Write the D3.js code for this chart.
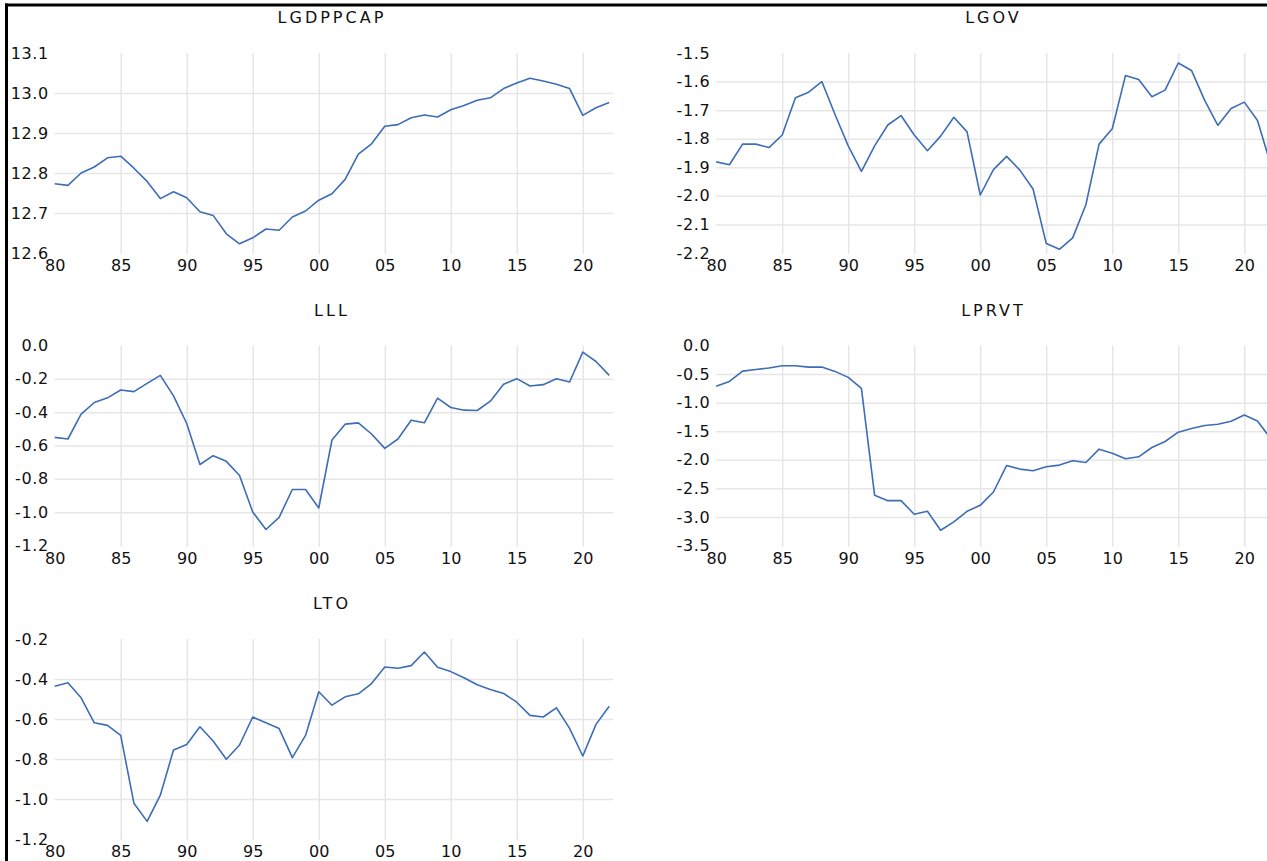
<!DOCTYPE html>
<html>
<head>
<meta charset="utf-8">
<script src="https://cdn.jsdelivr.net/npm/d3@7"></script>
<style>
  body { margin: 0; background: #fff; }
  svg { display: block; }
  text { font-family: "DejaVu Sans", Verdana, sans-serif; fill: #111; }
</style>
</head>
<body>
<div id="chart"></div>
<script>
// annual data 1980-2022
const years = d3.range(1980, 2023);

const lgdppcap = [12.773, 12.769, 12.800, 12.815, 12.838, 12.842, 12.812, 12.779, 12.736, 12.753,
  12.738, 12.703, 12.694, 12.648, 12.623, 12.638, 12.660, 12.657, 12.690, 12.705,
  12.732, 12.748, 12.784, 12.847, 12.873, 12.917, 12.921, 12.938, 12.945, 12.940,
  12.958, 12.969, 12.982, 12.988, 13.011, 13.025, 13.037, 13.030, 13.022, 13.011,
  12.944, 12.963, 12.976];

const lgov = [-1.881, -1.891, -1.819, -1.819, -1.831, -1.787, -1.657, -1.637, -1.600, -1.715,
  -1.825, -1.914, -1.825, -1.752, -1.719, -1.787, -1.842, -1.791, -1.725, -1.776,
  -1.997, -1.908, -1.862, -1.910, -1.976, -2.167, -2.187, -2.147, -2.031, -1.819,
  -1.765, -1.579, -1.593, -1.653, -1.630, -1.535, -1.561, -1.666, -1.753, -1.694,
  -1.672, -1.736, -1.890];

const lll = [-0.551, -0.561, -0.412, -0.342, -0.314, -0.267, -0.277, -0.227, -0.179, -0.302,
  -0.468, -0.714, -0.661, -0.695, -0.780, -0.999, -1.104, -1.031, -0.864, -0.864,
  -0.975, -0.567, -0.472, -0.464, -0.531, -0.617, -0.561, -0.448, -0.464, -0.316,
  -0.372, -0.388, -0.390, -0.334, -0.233, -0.199, -0.243, -0.235, -0.199, -0.219,
  -0.040, -0.096, -0.179];

const lprvt = [-0.715, -0.628, -0.448, -0.419, -0.395, -0.355, -0.355, -0.378, -0.378, -0.453,
  -0.558, -0.750, -2.622, -2.715, -2.715, -2.953, -2.901, -3.233, -3.087, -2.901,
  -2.797, -2.564, -2.099, -2.163, -2.192, -2.122, -2.093, -2.017, -2.047, -1.814,
  -1.884, -1.983, -1.948, -1.785, -1.680, -1.517, -1.453, -1.401, -1.378, -1.326,
  -1.215, -1.320, -1.630];

const lto = [-0.436, -0.419, -0.494, -0.619, -0.632, -0.682, -1.021, -1.112, -0.981, -0.755,
  -0.727, -0.639, -0.710, -0.801, -0.730, -0.590, -0.619, -0.648, -0.793, -0.682,
  -0.464, -0.531, -0.489, -0.474, -0.423, -0.340, -0.346, -0.333, -0.265, -0.341,
  -0.363, -0.394, -0.429, -0.452, -0.472, -0.516, -0.582, -0.590, -0.544, -0.647,
  -0.785, -0.627, -0.536];

// tick labels
const xTicks = [1980, 1985, 1990, 1995, 2000, 2005, 2010, 2015, 2020];
const ticksGdp = [12.6, 12.7, 12.8, 12.9, 13.0, 13.1];
const ticksGov = [-2.2, -2.1, -2.0, -1.9, -1.8, -1.7, -1.6, -1.5];
const ticksLll = [-1.2, -1.0, -0.8, -0.6, -0.4, -0.2, 0.0];
const ticksPrvt = [-3.5, -3.0, -2.5, -2.0, -1.5, -1.0, -0.5, 0.0];
const ticksTo = [-1.2, -1.0, -0.8, -0.6, -0.4, -0.2];

const W = 1267, H = 861;
const panelW = 554.5, panelH = 200;

const panels = [
  { title: "LGDPPCAP", values: lgdppcap, ticks: ticksGdp, left: 54.7, top: 53 },
  { title: "LGOV", values: lgov, ticks: ticksGov, left: 716.2, top: 53 },
  { title: "LLL", values: lll, ticks: ticksLll, left: 54.7, top: 345.5 },
  { title: "LPRVT", values: lprvt, ticks: ticksPrvt, left: 716.2, top: 345.5 },
  { title: "LTO", values: lto, ticks: ticksTo, left: 54.7, top: 639 }
];

const svg = d3.select("#chart")
  .append("svg")
  .attr("width", W)
  .attr("height", H);

const fmtY = d => d.toFixed(1);
const fmtX = d => String(d % 100).padStart(2, "0");

panels.forEach(p => {
  const g = svg.append("g")
    .attr("transform", "translate(" + p.left + "," + p.top + ")");

  const x = d3.scaleLinear()
    .domain([1980, 2022])
    .range([0, panelW]);
  const y = d3.scaleLinear()
    .domain([d3.min(p.ticks), d3.max(p.ticks)])
    .range([panelH, 0]);
  const gridRight = x(2022) + 4;

  // horizontal grid + y labels
  const yAx = g.append("g")
    .call(d3.axisLeft(y).tickValues(p.ticks).tickFormat(fmtY).tickSize(0).tickPadding(6));
  yAx.select(".domain").remove();
  yAx.selectAll("text")
    .attr("font-size", 16)
    .attr("font-family", "DejaVu Sans")
    .attr("letter-spacing", 0.6);
  yAx.selectAll(".tick").append("line")
    .attr("x1", 0)
    .attr("x2", gridRight)
    .attr("stroke", d => (d === d3.min(p.ticks) || d === d3.max(p.ticks)) ? "none" : "#e6e6e6")
    .attr("stroke-width", 1.5);

  // vertical grid + x labels
  const xAx = g.append("g")
    .attr("transform", "translate(0," + panelH + ")")
    .call(d3.axisBottom(x).tickValues(xTicks).tickFormat(fmtX).tickSize(0).tickPadding(7));
  xAx.select(".domain").remove();
  xAx.selectAll("text")
    .attr("font-size", 16)
    .attr("font-family", "DejaVu Sans");
  xAx.selectAll(".tick").append("line")
    .attr("y1", 1)
    .attr("y2", -panelH)
    .attr("stroke", d => d === 1980 ? "none" : "#e6e6e6")
    .attr("stroke-width", 1.5);

  // title
  g.append("text")
    .attr("x", panelW / 2)
    .attr("y", -30)
    .attr("text-anchor", "middle")
    .attr("font-size", 16)
    .attr("letter-spacing", 3)
    .text(p.title);

  // series line
  const line = d3.line()
    .x((d, i) => x(years[i]))
    .y(d => y(d));
  g.append("path")
    .datum(p.values)
    .attr("fill", "none")
    .attr("stroke", "#3d6db6")
    .attr("stroke-width", 1.6)
    .attr("stroke-linejoin", "round")
    .attr("d", line);
});

// frame edges (cropped box)
svg.append("line")
  .attr("x1", 5).attr("x2", W)
  .attr("y1", 5).attr("y2", 5)
  .attr("stroke", "#000").attr("stroke-width", 3);
svg.append("line")
  .attr("x1", 6.5).attr("x2", 6.5)
  .attr("y1", 3.5).attr("y2", H)
  .attr("stroke", "#000").attr("stroke-width", 3);
</script>
</body>
</html>
